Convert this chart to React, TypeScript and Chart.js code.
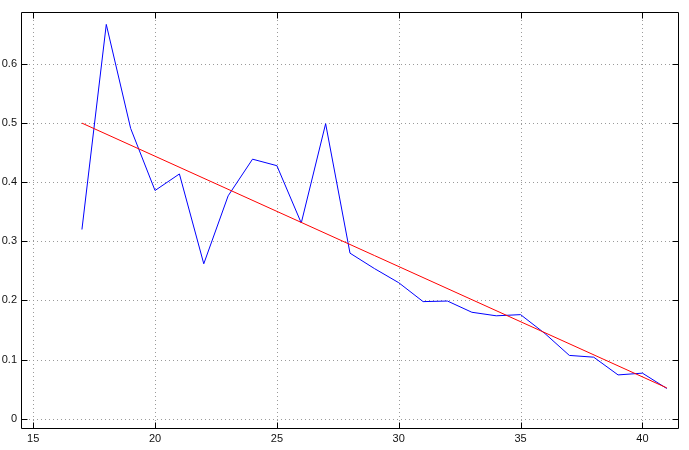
import React, { useEffect, useRef } from "react";
import { Chart, registerables } from "chart.js";

Chart.register(...registerables);

const xValues = [17, 18, 19, 20, 21, 22, 23, 24, 25, 26, 27, 28, 29, 30, 31, 32, 33, 34, 35, 36, 37, 38, 39, 40, 41];
const yValues = [0.32, 0.667, 0.491, 0.386, 0.414, 0.262, 0.377, 0.439, 0.428, 0.331, 0.499, 0.28, 0.254, 0.23, 0.198, 0.199, 0.18, 0.174, 0.176, 0.144, 0.107, 0.104, 0.074, 0.077, 0.051];
const fitX = [17, 41];
const fitY = [0.5, 0.052];
const xTicks = [15, 20, 25, 30, 35, 40];
const yTicks = [0, 0.1, 0.2, 0.3, 0.4, 0.5, 0.6];
const xRange = [14.5, 41.5];
const yRange = [-0.0175, 0.688];

const frameAndGrid = {
  id: "frameAndGrid",
  beforeDatasetsDraw(chart: any) {
    const { ctx, chartArea, scales } = chart;
    const { left, right, top, bottom } = chartArea;
    ctx.save();
    ctx.strokeStyle = "#9a9a9a";
    ctx.lineWidth = 1;
    ctx.setLineDash([1, 3]);
    for (const t of scales.x.ticks) {
      const px = Math.round(scales.x.getPixelForValue(t.value)) + 0.5;
      ctx.beginPath();
      ctx.moveTo(px, top);
      ctx.lineTo(px, bottom);
      ctx.stroke();
    }
    for (const t of scales.y.ticks) {
      const py = Math.round(scales.y.getPixelForValue(t.value)) + 0.5;
      ctx.beginPath();
      ctx.moveTo(left, py);
      ctx.lineTo(right, py);
      ctx.stroke();
    }
    ctx.restore();
  },
  afterDatasetsDraw(chart: any) {
    const { ctx, chartArea, scales } = chart;
    const { left, right, top, bottom } = chartArea;
    const tl = 6;
    ctx.save();
    ctx.strokeStyle = "#000";
    ctx.lineWidth = 1;
    ctx.setLineDash([]);
    const L = Math.round(left) + 0.5;
    const R = Math.round(right) - 0.5;
    const T = Math.round(top) + 0.5;
    const B = Math.round(bottom) - 0.5;
    ctx.beginPath();
    ctx.rect(L, T, R - L, B - T);
    ctx.stroke();
    ctx.beginPath();
    for (const t of scales.x.ticks) {
      const px = Math.round(scales.x.getPixelForValue(t.value)) + 0.5;
      ctx.moveTo(px, B);
      ctx.lineTo(px, B - tl);
      ctx.moveTo(px, T);
      ctx.lineTo(px, T + tl);
    }
    for (const t of scales.y.ticks) {
      const py = Math.round(scales.y.getPixelForValue(t.value)) + 0.5;
      ctx.moveTo(L, py);
      ctx.lineTo(L + tl, py);
      ctx.moveTo(R, py);
      ctx.lineTo(R - tl, py);
    }
    ctx.stroke();
    ctx.restore();
  },
};

export default function App() {
  const ref = useRef<HTMLCanvasElement>(null);

  useEffect(() => {
    document.body.style.margin = "0";
    const canvas = ref.current;
    if (!canvas) return;
    const font = { family: "'Liberation Sans', Arial, sans-serif", size: 11 };
    const chart = new Chart(canvas, {
      type: "line",
      data: {
        datasets: [
          {
            label: "fit",
            data: fitX.map((x, i) => ({ x, y: fitY[i] })),
            borderColor: "#ff0000",
            borderWidth: 1,
            pointRadius: 0,
            fill: false,
            tension: 0,
            order: 0,
          },
          {
            label: "data",
            data: xValues.map((x, i) => ({ x, y: yValues[i] })),
            borderColor: "#0000ff",
            borderWidth: 1,
            pointRadius: 0,
            fill: false,
            tension: 0,
            order: 1,
          },
        ],
      },
      options: {
        animation: false,
        responsive: false,
        maintainAspectRatio: false,
        layout: { padding: { top: 12, right: 10, left: 0, bottom: 0 } },
        plugins: { legend: { display: false }, tooltip: { enabled: false } },
        scales: {
          x: {
            type: "linear",
            min: xRange[0],
            max: xRange[1],
            afterBuildTicks: (scale: any) => {
              scale.ticks = xTicks.map((v) => ({ value: v }));
            },
            afterFit: (scale: any) => {
              scale.height = 21;
            },
            grid: { display: false, drawTicks: false, tickLength: 0 },
            border: { display: false },
            ticks: {
              font,
              color: "#111",
              padding: 3,
              maxRotation: 0,
              autoSkip: false,
              callback: (v: any) => String(v),
            },
          },
          y: {
            type: "linear",
            min: yRange[0],
            max: yRange[1],
            afterBuildTicks: (scale: any) => {
              scale.ticks = yTicks.map((v) => ({ value: v }));
            },
            afterFit: (scale: any) => {
              scale.width = 21;
            },
            grid: { display: false, drawTicks: false, tickLength: 0 },
            border: { display: false },
            ticks: {
              font,
              color: "#111",
              padding: 4,
              autoSkip: false,
              callback: (v: any) => String(Math.round(Number(v) * 10) / 10),
            },
          },
        },
      },
      plugins: [frameAndGrid],
    } as any);
    return () => chart.destroy();
  }, []);

  return (
    <div style={{ position: "absolute", left: 0, top: 0, width: 689, height: 450, background: "#fff" }}>
      <canvas ref={ref} width={689} height={450} style={{ display: "block" }} />
    </div>
  );
}
